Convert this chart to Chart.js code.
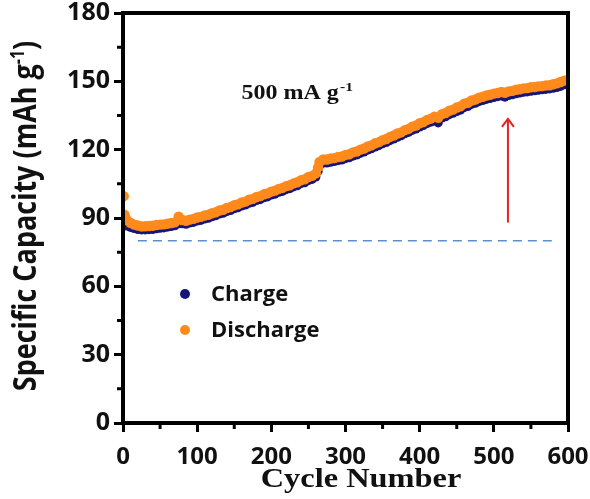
<!DOCTYPE html>
<html>
<head>
<meta charset="utf-8">
<script src="https://cdn.jsdelivr.net/npm/chart.js@4/dist/chart.umd.min.js"></script>
<style>
html,body{margin:0;padding:0;background:#fff;}
#wrap{width:590px;height:499px;}
</style>
</head>
<body>
<div id="wrap"><canvas id="c" width="590" height="499"></canvas></div>
<script>
// ---- data ----
const cycles = [1,2,3,5,10,15,20,25,30,35,40,45,50,55,60,65,70,75,80,85,90,95,100,105,110,115,120,125,130,135,140,145,150,155,160,165,170,175,180,185,190,195,200,205,210,215,220,225,230,235,240,245,250,255,260,263,265,270,275,280,285,290,295,300,305,310,315,320,325,330,335,340,345,350,355,360,365,370,375,380,385,390,395,400,405,410,415,420,425,430,435,440,445,450,455,460,465,470,475,480,485,490,495,500,505,510,515,520,525,530,535,540,545,550,555,560,565,570,575,580,585,590,595,600];
const discharge = [99.6,91.4,90.2,89.1,87.9,87.1,86.7,86.3,86.4,86.5,86.6,86.9,87.1,87.2,87.5,87.8,88.1,90.6,89.1,88.8,89.3,89.6,90.2,90.5,91.1,91.4,92.1,92.5,93.3,93.6,94.4,94.8,95.6,96.0,96.8,97.2,98.0,98.4,99.2,99.6,100.4,100.8,101.6,102.0,102.8,103.2,104.0,104.4,105.2,105.7,106.6,107.0,108.0,108.5,109.6,112.2,114.6,115.7,115.7,116.1,116.3,116.8,117.0,117.7,118.0,118.8,119.2,120.0,120.5,121.4,121.9,122.8,123.3,124.2,124.7,125.6,126.2,127.1,127.6,128.6,129.1,130.1,130.6,131.6,132.1,133.1,133.6,134.5,134.0,135.6,136.1,137.1,137.6,138.5,139.0,140.2,140.6,141.6,142.0,142.8,143.2,143.8,144.1,144.6,144.9,145.3,145.0,145.6,145.8,146.3,146.5,146.9,147.0,147.4,147.5,147.8,147.9,148.2,148.3,148.7,149.1,149.7,150.3,150.6];
const charge = [87.5,87.0,86.8,86.5,85.9,85.4,85.0,84.8,84.8,84.9,85.0,85.3,85.5,85.7,86.0,86.3,86.6,87.5,87.5,87.3,87.8,88.1,88.7,89.0,89.6,89.9,90.6,91.0,91.8,92.1,92.9,93.3,94.1,94.5,95.3,95.7,96.5,96.9,97.7,98.1,98.9,99.3,100.1,100.5,101.3,101.7,102.5,102.9,103.7,104.2,105.1,105.5,106.5,107.0,108.0,110.5,113.0,114.1,114.2,114.5,114.8,115.2,115.5,116.1,116.5,117.2,117.7,118.4,119.0,119.8,120.4,121.2,121.8,122.6,123.2,124.0,124.7,125.5,126.1,127.0,127.6,128.5,129.1,130.0,130.6,131.5,132.1,132.6,131.8,133.9,134.5,135.4,136.0,136.8,137.4,138.5,139.0,139.9,140.4,141.1,141.6,142.1,142.5,142.9,143.3,143.6,143.1,143.8,144.1,144.6,144.9,145.2,145.4,145.7,145.9,146.1,146.3,146.5,146.7,147.0,147.3,147.8,148.5,149.3];
const refLineX = [20, 580];
const refLineY = [80, 80];
const arrowX = [519, 519];
const arrowY = [88, 133.5];
const xTicks = [0,100,200,300,400,500,600];
const yTicks = [0,30,60,90,120,150,180];
const xMinor = [50,150,250,350,450,550];
const yMinor = [15,45,75,105,135,165];
const seriesNames = ['Charge','Discharge'];
const annotation = {main:'500 mA g', sup:'-1', x:235, y:145};

const NAVY = '#16167a';
const ORANGE = '#ff8a1c';

const toPts = (xs, ys) => xs.map((v,i)=>({x:v, y:ys[i]}));

const decor = {
  id:'decor',
  afterDraw(chart){
    const {ctx, chartArea:a, scales:{x, y}} = chart;
    ctx.save();
    // frame
    ctx.strokeStyle = '#000';
    ctx.lineWidth = 4;
    ctx.strokeRect(a.left, a.top, a.right - a.left, a.bottom - a.top);
    // minor ticks
    ctx.lineWidth = 3;
    ctx.beginPath();
    xMinor.forEach(v=>{ const px = x.getPixelForValue(v); ctx.moveTo(px, a.bottom); ctx.lineTo(px, a.bottom + 6); });
    yMinor.forEach(v=>{ const py = y.getPixelForValue(v); ctx.moveTo(a.left, py); ctx.lineTo(a.left - 6, py); });
    ctx.stroke();
    // arrow head
    const ax = x.getPixelForValue(arrowX[1]);
    const ay = y.getPixelForValue(arrowY[1]);
    ctx.strokeStyle = '#e8201f';
    ctx.lineWidth = 2;
    ctx.beginPath();
    ctx.moveTo(ax - 6, ay + 8); ctx.lineTo(ax, ay); ctx.lineTo(ax + 6, ay + 8);
    ctx.stroke();
    // legend
    const items = [[NAVY, seriesNames[0], 294], [ORANGE, seriesNames[1], 330]];
    ctx.textBaseline = 'middle';
    ctx.textAlign = 'left';
    ctx.font = 'bold 22px "Open Sans"';
    items.forEach(([col, label, ly])=>{
      ctx.fillStyle = col;
      ctx.beginPath(); ctx.arc(185, ly, 5, 0, Math.PI*2); ctx.fill();
      ctx.fillStyle = '#111';
      ctx.fillText(label, 211, ly + 1);
    });
    // annotation "500 mA g-1"
    const tx = x.getPixelForValue(annotation.x), ty = y.getPixelForValue(annotation.y);
    ctx.save();
    ctx.translate(tx, ty);
    ctx.scale(1.2, 1);
    ctx.fillStyle = '#111';
    ctx.textBaseline = 'alphabetic';
    ctx.textAlign = 'left';
    ctx.font = 'bold 20px "Liberation Serif"';
    const w1 = ctx.measureText(annotation.main).width;
    ctx.fillText(annotation.main, -w1/2 - 6, 6);
    ctx.font = 'bold 13px "Liberation Serif"';
    ctx.fillText(annotation.sup, w1/2 - 5, -2);
    ctx.restore();
    // x title
    ctx.save();
    ctx.translate(361, 487);
    ctx.scale(1.2, 1);
    ctx.fillStyle = '#111';
    ctx.textAlign = 'center';
    ctx.textBaseline = 'alphabetic';
    ctx.font = 'bold 27px "Liberation Serif"';
    ctx.fillText('Cycle Number', 0, 0);
    ctx.restore();
    // y title
    ctx.save();
    ctx.translate(26, 216);
    ctx.rotate(-Math.PI/2);
    ctx.scale(1, 1.2);
    ctx.fillStyle = '#111';
    ctx.textBaseline = 'middle';
    ctx.textAlign = 'left';
    const p1 = 'Specific Capacity (mAh g', p2 = '-1', p3 = ')';
    ctx.font = 'bold 27px "Open Sans"';
    const a1 = ctx.measureText(p1).width, a3 = ctx.measureText(p3).width;
    ctx.font = 'bold 16px "Open Sans"';
    const a2 = ctx.measureText(p2).width;
    let sx = -(a1 + a2 + a3)/2;
    ctx.font = 'bold 27px "Open Sans"';
    ctx.fillText(p1, sx, 1);
    ctx.font = 'bold 16px "Open Sans"';
    ctx.fillText(p2, sx + a1, -6);
    ctx.font = 'bold 27px "Open Sans"';
    ctx.fillText(p3, sx + a1 + a2, 1);
    ctx.restore();
    ctx.restore();
  }
};

new Chart(document.getElementById('c'), {
  type: 'scatter',
  data: {
    datasets: [
      { label: seriesNames[1], data: toPts(cycles, discharge), backgroundColor: ORANGE, pointRadius: 5.2, pointBorderWidth: 0, order: 1 },
      { label: seriesNames[0], data: toPts(cycles, charge), backgroundColor: NAVY, pointRadius: 4.6, pointBorderWidth: 0, order: 2 },
      { type: 'line', label: 'ref', data: toPts(refLineX, refLineY), borderColor: '#5b8fd0', borderWidth: 1.5, borderDash: [9, 6], pointRadius: 0, fill: false, order: 3 },
      { type: 'line', label: 'arrow', data: toPts(arrowX, arrowY), borderColor: '#e8201f', borderWidth: 2, pointRadius: 0, fill: false, order: 0 }
    ]
  },
  options: {
    responsive: false,
    animation: false,
    layout: { padding: { top: 13, right: 22, left: 0, bottom: 0 } },
    plugins: { legend: { display: false }, tooltip: { enabled: false } },
    scales: {
      x: {
        type: 'linear', min: 0, max: 600,
        afterFit(s){ s.height = 76; s.paddingLeft = 0; s.paddingRight = 0; },
        afterBuildTicks(s){ s.ticks = xTicks.map(v=>({value:v})); },
        border: { display: false },
        grid: { drawOnChartArea: false, drawTicks: true, tickLength: 9, tickWidth: 3, tickColor: '#000' },
        ticks: { color: '#111', font: { family: 'Open Sans', weight: 'bold', size: 24 }, padding: 11, maxRotation: 0, autoSkip: false }
      },
      y: {
        type: 'linear', min: 0, max: 180,
        afterFit(s){ s.width = 123; s.paddingTop = 0; s.paddingBottom = 0; },
        afterBuildTicks(s){ s.ticks = yTicks.map(v=>({value:v})); },
        border: { display: false },
        grid: { drawOnChartArea: false, drawTicks: true, tickLength: 9, tickWidth: 3, tickColor: '#000' },
        ticks: { color: '#111', font: { family: 'Open Sans', weight: 'bold', size: 25 }, padding: 4, autoSkip: false }
      }
    }
  },
  plugins: [decor]
});
</script>
</body>
</html>
